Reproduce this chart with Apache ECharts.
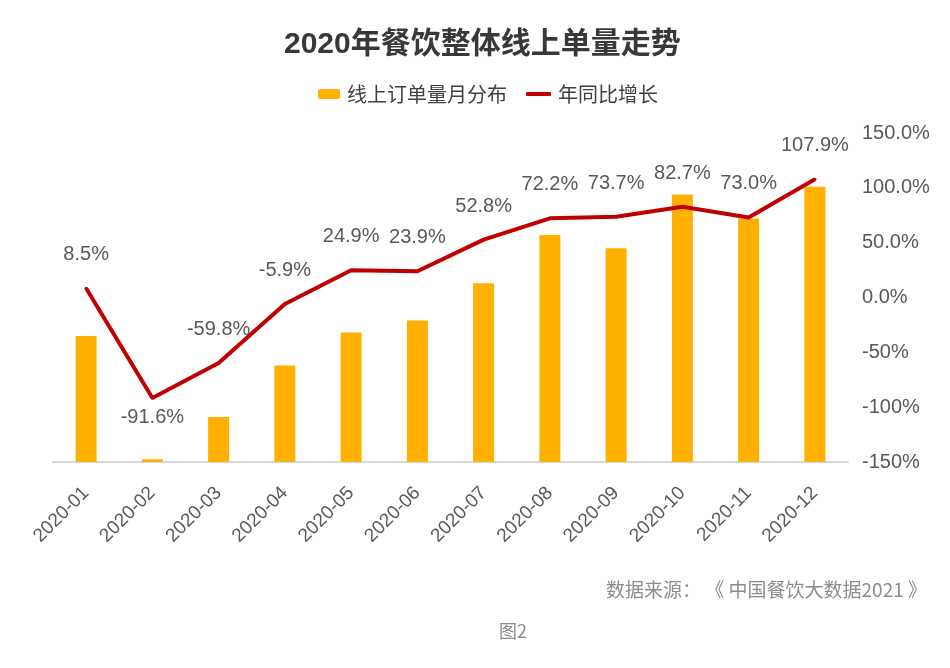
<!DOCTYPE html>
<html><head><meta charset="utf-8">
<script src="https://cdn.jsdelivr.net/npm/echarts@6/dist/echarts.min.js"></script>
<style>html,body{margin:0;padding:0;background:#fff}#c{width:950px;height:668px}</style>
</head><body><div id="c"></div>
<script>
const categories = ['2020-01','2020-02','2020-03','2020-04','2020-05','2020-06','2020-07','2020-08','2020-09','2020-10','2020-11','2020-12'];
const orderVolume = [115, 2.5, 41, 88, 118, 129, 163, 207, 195, 244, 222, 251];
const yoyGrowth = [8.5, -91.6, -59.8, -5.9, 24.9, 23.9, 52.8, 72.2, 73.7, 82.7, 73.0, 107.9];
const rightTicks = [-150, -100, -50, 0, 50, 100, 150];

const FONT = '"Liberation Sans", "Noto Sans CJK SC", sans-serif';
const CJK = '"Noto Sans CJK SC", sans-serif';
const chart = echarts.init(document.getElementById('c'));
chart.setOption({
  backgroundColor: '#fff',
  animation: false,
  title: {
    text: '2020年餐饮整体线上单量走势', left: 279, top: 25,
    textStyle: { fontFamily: '"Liberation Sans", "Noto Sans CJK SC", sans-serif', fontSize: 30, fontWeight: 'bold', color: '#383838' }
  },
  legend: [
    { data: ['线上订单量月分布'], left: 313, top: 79, itemWidth: 22, itemHeight: 10, itemGap: 10,
      textStyle: { fontFamily: CJK, fontSize: 20, color: '#404040', padding: [0, 0, 0, 2] } },
    { data: ['年同比增长'], left: 521, top: 79, itemWidth: 25, itemHeight: 4, icon: 'roundRect',
      textStyle: { fontFamily: CJK, fontSize: 20, color: '#404040', padding: [0, 0, 0, 2] } }
  ],
  grid: { left: 53, right: 102, top: 133, bottom: 206 },
  xAxis: {
    type: 'category', data: categories,
    axisLine: { lineStyle: { color: '#d9d9d9', width: 2 } },
    axisTick: { show: false },
    axisLabel: { rotate: 45, fontFamily: FONT, fontSize: 19, color: '#595959', margin: 28, interval: 0 }
  },
  yAxis: [
    { type: 'value', min: 0, max: 300, show: false },
    { type: 'value', position: 'right', min: -150, max: 150, interval: 50,
      axisLine: { show: false }, axisTick: { show: false }, splitLine: { show: false },
      axisLabel: { margin: 14, fontFamily: FONT, fontSize: 20, color: '#595959',
        formatter: v => v >= 0 ? v.toFixed(1) + '%' : v + '%' } }
  ],
  series: [
    { name: '线上订单量月分布', type: 'bar', yAxisIndex: 0, data: orderVolume,
      barWidth: 21, itemStyle: { color: '#FFB000' } },
    { name: '年同比增长', type: 'line', yAxisIndex: 1, symbol: 'circle', symbolSize: 3, showSymbol: true,
      data: yoyGrowth.map((v, i) => i === 1 ? { value: v, label: { position: 'bottom', distance: 8 } } : v),
      lineStyle: { color: '#C00000', width: 4 }, itemStyle: { color: '#C00000' },
      label: { show: true, position: 'top', distance: 22, fontFamily: FONT, fontSize: 20, color: '#595959',
        formatter: p => p.value.toFixed(1) + '%' } }
  ],
  graphic: [
    { type: 'text', right: 23, top: 580, style: { text: '数据来源： 《 中国餐饮大数据2021 》', font: '19px "Noto Sans CJK SC", sans-serif', fill: '#8c8c8c' } },
    { type: 'text', left: 499, top: 622, style: { text: '图2', font: '18px "Noto Sans CJK SC", sans-serif', fill: '#8c8c8c' } }
  ]
});
</script></body></html>
